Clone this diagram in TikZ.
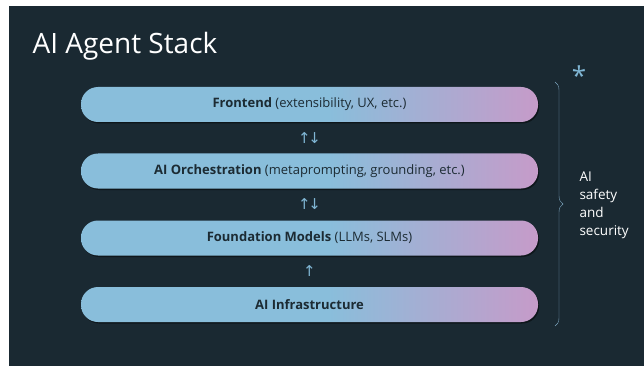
\documentclass[tikz,border=0pt]{standalone}
\usepackage{fontspec}
\setmainfont{Open Sans}
\newfontfamily\symfont{DejaVu Sans}
\usetikzlibrary{positioning,shadows,decorations.pathreplacing,calc}
\definecolor{slide}{HTML}{1A2932}
\definecolor{barblue}{HTML}{89BEDB}
\definecolor{barpink}{HTML}{C69BC9}
\definecolor{bartext}{HTML}{1C2B33}
\definecolor{arrowblue}{HTML}{80B6D4}
\definecolor{bracecol}{HTML}{7FA8C2}
\pgfdeclarehorizontalshading{barshade}{100bp}{color(0bp)=(barblue); color(25bp)=(barblue); color(52bp)=(barblue); color(75bp)=(barpink); color(100bp)=(barpink)}
\newcommand\barw{457pt}
\newcommand\barh{35pt}
\tikzset{bar/.style={rectangle, rounded corners=17pt, minimum width=\barw, minimum height=\barh, shading=barshade, drop shadow={shadow xshift=1.2pt, shadow yshift=-1.5pt, opacity=0.45, fill=black}, text=bartext, font=\fontsize{13}{15}\selectfont},
  flow/.style={text=arrowblue, font=\symfont\fontsize{15}{16}\selectfont, inner sep=0pt},
  note/.style={text=white, align=left, anchor=west, font=\fontsize{13.5}{18}\selectfont}}

\begin{document}
\begin{tikzpicture}[x=1pt,y=-1pt]
                \useasboundingbox (0,0) rectangle (644,366);
                \fill[slide] (9,6) rectangle (644,366);
                \node[anchor=base west, text=white, font=\fontsize{28}{32}\selectfont] (title) at (29,54) {AI Agent Stack};

                \node[bar] (front) at (309.5,104.5) {\textbf{Frontend} (extensibility, UX, etc.)};
                \node[bar] (orch) at (309.5,171) {\textbf{AI Orchestration} (metaprompting, grounding, etc.)};
                \node[bar] (found) at (309.5,238) {\textbf{Foundation Models} (LLMs, SLMs)};
                \node[bar] (infra) at (309.5,304.5) {\textbf{AI Infrastructure}};

                \node[flow] (f1) at ($(front)!0.5!(orch)$) {↑\kern-2.5pt↓};
                \node[flow] (f2) at ($(orch)!0.5!(found)$) {↑\kern-2.5pt↓};
                \node[flow] (f3) at ($(found)!0.5!(infra)$) {↑};

                \coordinate (btop) at (555,82);
                \coordinate (bbot) at (555,326);
                \draw[bracecol, thin, decorate, decoration={brace, amplitude=8pt}] (btop) -- (bbot) coordinate[midway, xshift=10pt] (tip);
                \node[note] (safety) at (576,205) {AI\\safety\\and\\security};
                \node[text=arrowblue, font=\fontsize{26}{30}\selectfont] (star) at (579,76) {*};
            \end{tikzpicture}
\end{document}
